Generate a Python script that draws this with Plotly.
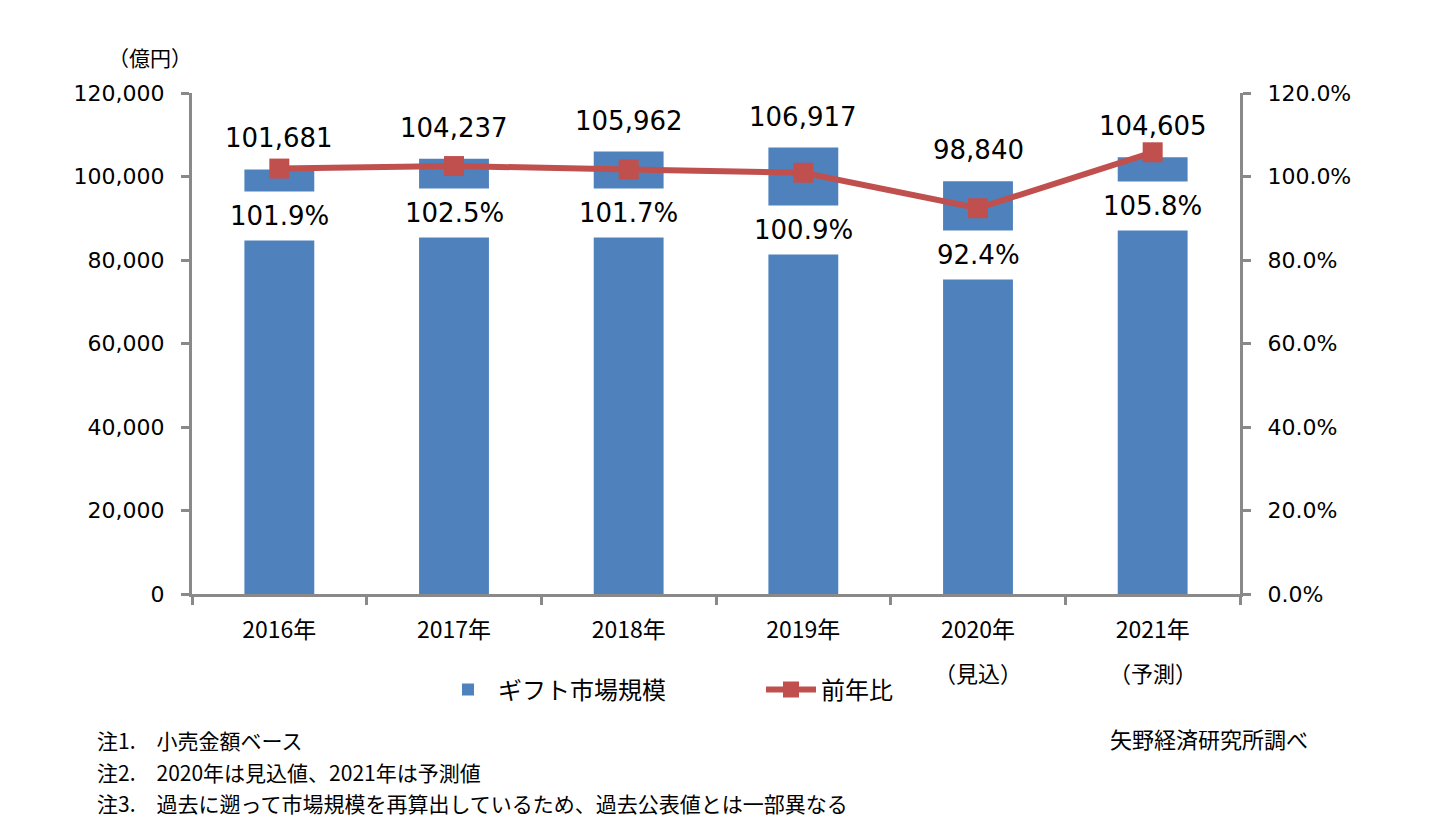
import plotly.graph_objects as go

# ---- data ----
years = ["2016年", "2017年", "2018年", "2019年", "2020年", "2021年"]
year_notes = ["", "", "", "", "（見込）", "（予測）"]
market_size = [101681, 104237, 105962, 106917, 98840, 104605]   # 億円
yoy_pct = [101.9, 102.5, 101.7, 100.9, 92.4, 105.8]            # %
left_ticks = [0, 20000, 40000, 60000, 80000, 100000, 120000]
notes = ["注1.　小売金額ベース",
         "注2.　2020年は見込値、2021年は予測値",
         "注3.　過去に遡って市場規模を再算出しているため、過去公表値とは一部異なる"]
source = "矢野経済研究所調べ"
unit = "（億円）"

# ---- layout constants (pixels, page has an 8px body margin) ----
OFF = 8
W, H = 1450 - OFF, 829 - OFF
ML, MT = 192 - OFF, 93 - OFF
MR = W - (1240 - OFF)
MB = H - (594 - OFF)
PW, PH = W - ML - MR, H - MT - MB
def px_x(p): return (p - OFF - ML) / PW
def px_y(p): return (H - MB - (p - OFF)) / PH

BLUE = "#4F81BD"
RED = "#C0504D"
AX = "#898989"
LAT = "DejaVu Sans, Verdana, Noto Sans CJK JP"
CJK = "Noto Sans CJK JP, DejaVu Sans"
pct_label_drop = [47, 47, 44, 57, 47, 54]

fig = go.Figure()
fig.add_trace(go.Bar(x=years, y=market_size, name="ギフト市場規模",
                     marker=dict(color=BLUE, line=dict(width=0)), yaxis="y"))
fig.add_trace(go.Scatter(x=years, y=yoy_pct, name="前年比", mode="lines+markers",
                         line=dict(color=RED, width=6),
                         marker=dict(symbol="square", size=20, color=RED),
                         yaxis="y2"))

ann = []
for yr, v in zip(years, market_size):
    ann.append(dict(x=yr, y=v, xref="x", yref="y", text=f"{v:,}", showarrow=False,
                    yanchor="middle", yshift=31, font=dict(family=LAT, size=26, color="black")))
for yr, p, d in zip(years, yoy_pct, pct_label_drop):
    ann.append(dict(x=yr, y=p, xref="x", yref="y2", text=f"{p:.1f}%", showarrow=False,
                    yanchor="middle", yshift=-d, bgcolor="white", borderpad=9,
                    font=dict(family=LAT, size=26, color="black")))
for yr, n in zip(years, year_notes):
    if n:
        ann.append(dict(x=yr, y=0, xref="x", yref="paper", text=n, showarrow=False,
                        yanchor="middle", yshift=-78, font=dict(family=CJK, size=22, color="black")))
ann.append(dict(x=px_x(150), y=px_y(57), xref="paper", yref="paper", text=unit, showarrow=False,
                xanchor="center", yanchor="middle", font=dict(family=CJK, size=21, color="black")))
for i, t in enumerate(notes):
    ann.append(dict(x=px_x(95), y=px_y(740 + 31.5 * i), xref="paper", yref="paper", text=t,
                    showarrow=False, xanchor="left", yanchor="middle",
                    font=dict(family=CJK, size=21, color="black")))
ann.append(dict(x=px_x(1108), y=px_y(738), xref="paper", yref="paper", text=source,
                showarrow=False, xanchor="left", yanchor="middle",
                font=dict(family=CJK, size=22, color="black")))

fig.update_layout(
    width=W, height=H, margin=dict(l=ML, r=MR, t=MT, b=MB, autoexpand=False),
    plot_bgcolor="white", paper_bgcolor="white",
    bargap=0.6,
    showlegend=True,
    legend=dict(orientation="h", x=px_x(438), y=px_y(690), xanchor="left", yanchor="middle",
                font=dict(family=CJK, size=24, color="black"),
                entrywidth=258, entrywidthmode="pixels", itemwidth=50,
                bgcolor="rgba(0,0,0,0)"),
    xaxis=dict(type="category", showline=True, linecolor=AX, linewidth=3,
               ticks="outside", tickson="boundaries", ticklen=8, tickwidth=3, tickcolor=AX,
               ticklabelstandoff=13, tickfont=dict(family=CJK, size=23, color="black"),
               showgrid=False, zeroline=False),
    yaxis=dict(range=[0, 120000], tickvals=left_ticks, tickformat=",", showline=True,
               linecolor=AX, linewidth=3, ticks="outside", ticklen=8, tickwidth=3, tickcolor=AX,
               ticklabelstandoff=12, tickfont=dict(family=LAT, size=22, color="black"),
               showgrid=False, zeroline=False),
    yaxis2=dict(range=[0, 120], dtick=20, tickformat=".1f", ticksuffix="%", overlaying="y",
                side="right", showline=True, linecolor=AX, linewidth=3, ticks="outside",
                ticklen=8, tickwidth=3, tickcolor=AX, ticklabelstandoff=12,
                tickfont=dict(family=LAT, size=22, color="black"),
                showgrid=False, zeroline=False),
    annotations=ann,
)

fig.write_html("out.html")
